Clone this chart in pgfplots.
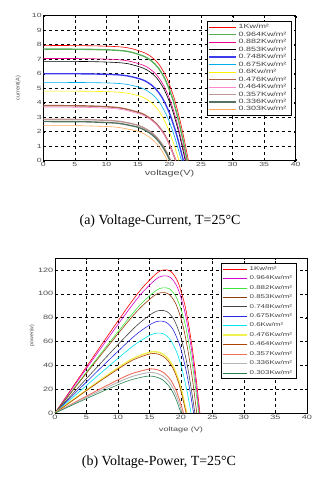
\documentclass[border=0pt]{standalone}
\usepackage{fontspec}
\setmainfont{Liberation Sans}
\newfontfamily\capfont{Liberation Serif}
\usepackage{graphicx}
\usepackage{pgfplots}
\pgfplotsset{compat=1.18}

% the original figure is stretched sideways, so text is widened
\newcommand\wide[1]{\scalebox{1.45}[1]{#1}}
\newcommand\legw{50bp}
\newcommand\leg[1]{\makebox[\legw][l]{\wide{#1}}}

% top chart colours
\definecolor{cGreenA}{RGB}{90,175,90}
\definecolor{cBlueA}{RGB}{60,60,235}
\definecolor{cBrownA}{RGB}{170,100,80}
\definecolor{cPinkA}{RGB}{255,135,205}
\definecolor{cRosyA}{RGB}{190,150,150}
\definecolor{cDkGreenA}{RGB}{85,115,95}
\definecolor{cOrangeA}{RGB}{255,170,90}
% bottom chart colours
\definecolor{cMagB}{RGB}{210,0,210}
\definecolor{cGreenB}{RGB}{60,230,60}
\definecolor{cBrownB}{RGB}{150,60,10}
\definecolor{cGrayB}{RGB}{70,70,70}
\definecolor{cBlueB}{RGB}{40,40,230}
\definecolor{cCyanB}{RGB}{0,230,240}
\definecolor{cYellowB}{RGB}{240,240,80}
\definecolor{cBrown2B}{RGB}{175,65,0}
\definecolor{cSalmonB}{RGB}{240,110,90}
\definecolor{cLGrayB}{RGB}{180,180,180}
\definecolor{cDkGreenB}{RGB}{40,130,80}

\pgfplotsset{
  pvstyle/.style={
    scale only axis,
    xmin=0, xmax=40, xtick={0,5,...,40},
    grid=major,
    major grid style={black, dashed, line width=0.5pt},
    tick align=inside,
    major tick length=2pt,
    tick style={black},
    axis line style={black, line width=0.6pt},
    ticklabel style={text=black!70, inner sep=1.5pt},
    xticklabel={\wide{\pgfmathprintnumber{\tick}}},
    yticklabel={\wide{\pgfmathprintnumber{\tick}}},
    label style={text=black!70},
    /pgf/number format/assume math mode=true,
    every axis plot/.append style={smooth, no markers, line width=0.6pt},
    legend cell align=left,
    legend style={text=black!75, cells={anchor=west},
      draw=black, line width=0.6pt, inner xsep=1pt, inner ysep=1pt},
  },
}

\begin{document}
\begin{tikzpicture}
\useasboundingbox (0,0) rectangle (331bp,480bp);

% ---------- (a) Voltage-Current ----------
\begin{axis}[pvstyle,
    at={(43.3bp,319.3bp)}, anchor=south west,
    width=252.4bp, height=145bp,
    ymin=0, ymax=10, ytick={0,1,...,10},
    ticklabel style={font=\fontsize{6}{7}\selectfont},
    xlabel={\wide{voltage(V)}}, ylabel={current(A)},
    xlabel style={font=\fontsize{7.5}{8}\selectfont, at={([yshift=-13bp]axis description cs:0.5,0)}, anchor=center},
    ylabel style={font=\fontsize{5.5}{6}\selectfont, at={([xshift=-25bp]axis description cs:0,0.5)}, anchor=center},
    legend style={at={(0.985,0.963)}, anchor=north east, font=\fontsize{6.2}{7}\selectfont, row sep=-2.5pt},
    legend image code/.code={\draw[#1] (0bp,0bp) -- (27bp,0bp);},
  ]
  \addplot[red] coordinates {(0,7.95)(6.9,7.93)(11.5,7.87)(13.8,7.75)(16.1,7.43)(17.25,7.12)(18.4,6.60)(19.55,5.72)(20.7,4.37)(21.62,2.86)(22.31,1.51)(23,0)};
  \addplot[cGreenA, line width=1.4pt] coordinates {(0,7.70)(6.84,7.68)(11.4,7.62)(13.68,7.51)(15.96,7.20)(17.1,6.89)(18.24,6.39)(19.38,5.54)(20.52,4.24)(21.43,2.77)(22.12,1.46)(22.8,0)};
  \addplot[magenta] coordinates {(0,7.05)(6.78,7.04)(11.3,6.98)(13.56,6.87)(15.82,6.59)(16.95,6.31)(18.08,5.85)(19.21,5.08)(20.34,3.88)(21.24,2.54)(21.92,1.34)(22.6,0)};
  \addplot[black] coordinates {(0,6.85)(6.75,6.84)(11.25,6.78)(13.5,6.68)(15.75,6.40)(16.88,6.13)(18.0,5.69)(19.13,4.93)(20.25,3.77)(21.15,2.47)(21.83,1.30)(22.5,0)};
  \addplot[cBlueA, line width=1.4pt] coordinates {(0,6.00)(6.66,5.99)(11.1,5.94)(13.32,5.85)(15.54,5.61)(16.65,5.37)(17.76,4.98)(18.87,4.32)(19.98,3.30)(20.87,2.16)(21.53,1.14)(22.2,0)};
  \addplot[cyan] coordinates {(0,5.40)(6.57,5.39)(10.95,5.35)(13.14,5.27)(15.33,5.05)(16.43,4.83)(17.52,4.48)(18.62,3.89)(19.71,2.97)(20.59,1.94)(21.24,1.03)(21.9,0)};
  \addplot[yellow] coordinates {(0,4.80)(6.45,4.79)(10.75,4.75)(12.9,4.68)(15.05,4.49)(16.13,4.30)(17.2,3.98)(18.28,3.46)(19.35,2.64)(20.21,1.73)(20.86,0.91)(21.5,0)};
  \addplot[cBrownA, line width=1.4pt] coordinates {(0,3.80)(6.3,3.78)(10.5,3.71)(12.6,3.61)(14.7,3.38)(15.75,3.23)(16.8,2.96)(17.85,2.58)(18.9,2.01)(19.74,1.37)(20.37,0.72)(21.0,0)};
  \addplot[cPinkA] coordinates {(0,3.70)(6.3,3.68)(10.5,3.61)(12.6,3.52)(14.7,3.29)(15.75,3.15)(16.8,2.89)(17.85,2.52)(18.9,1.96)(19.74,1.33)(20.37,0.70)(21.0,0)};
  \addplot[cRosyA, line width=1.4pt] coordinates {(0,2.85)(6.06,2.84)(10.1,2.78)(12.12,2.71)(14.14,2.54)(15.15,2.42)(16.16,2.22)(17.17,1.94)(18.18,1.51)(18.99,1.03)(19.59,0.54)(20.2,0)};
  \addplot[cDkGreenA, line width=1.4pt] coordinates {(0,2.70)(6.03,2.69)(10.05,2.63)(12.06,2.57)(14.07,2.40)(15.08,2.30)(16.08,2.11)(17.09,1.84)(18.09,1.43)(18.89,0.97)(19.5,0.51)(20.1,0)};
  \addplot[cOrangeA] coordinates {(0,2.42)(5.91,2.41)(9.85,2.36)(11.82,2.30)(13.79,2.15)(14.78,2.06)(15.76,1.89)(16.75,1.65)(17.73,1.28)(18.52,0.87)(19.11,0.46)(19.7,0)};
  \legend{\leg{1Kw/m²}, \leg{0.964Kw/m²}, \leg{0.882Kw/m²}, \leg{0.853Kw/m²},
          \leg{0.748Kw/m²}, \leg{0.675Kw/m²}, \leg{0.6Kw/m²}, \leg{0.476Kw/m²},
          \leg{0.464Kw/m²}, \leg{0.357Kw/m²}, \leg{0.336Kw/m²}, \leg{0.303Kw/m²}}
\end{axis}

\node[font=\capfont\fontsize{14}{16}\selectfont] at (160bp,259bp) {(a) Voltage-Current, T=25°C};

% ---------- (b) Voltage-Power ----------
\renewcommand\legw{44bp}
\begin{axis}[pvstyle,
    at={(55bp,67bp)}, anchor=south west,
    width=252bp, height=155bp,
    ymin=0, ymax=130, ytick={0,20,...,120},
    ticklabel style={font=\fontsize{6.3}{7}\selectfont},
    xlabel={\wide{voltage (V)}}, ylabel={power(w)},
    xlabel style={font=\fontsize{6.3}{7}\selectfont, at={([yshift=-17bp]axis description cs:0.5,0)}, anchor=center},
    ylabel style={font=\fontsize{5.3}{6}\selectfont, at={([xshift=-23bp]axis description cs:0,0.5)}, anchor=center},
    legend style={at={(0.96,0.968)}, anchor=north east, font=\fontsize{5.5}{6.5}\selectfont, row sep=0pt},
    legend image code/.code={\draw[#1] (0bp,0bp) -- (24bp,0bp);},
  ]
  \addplot[red] coordinates {(0,0)(6.9,53.5)(11.5,88.5)(13.8,104.6)(16.1,117.0)(17.25,120.0)(18.4,118.7)(19.55,109.4)(20.7,88.5)(21.62,60.5)(22.31,33.0)(23,0)};
  \addplot[cMagB] coordinates {(0,0)(6.87,51.3)(11.45,84.8)(13.74,100.3)(16.03,112.2)(17.18,115.0)(18.32,113.8)(19.47,104.9)(20.61,84.8)(21.53,58.0)(22.21,31.6)(22.9,0)};
  \addplot[cGreenB] coordinates {(0,0)(6.84,46.9)(11.4,77.5)(13.68,91.6)(15.96,102.4)(17.1,105.0)(18.24,103.9)(19.38,95.8)(20.52,77.5)(21.43,53.0)(22.12,28.8)(22.8,0)};
  \addplot[cBrownB] coordinates {(0,0)(6.75,45.1)(11.25,74.5)(13.5,88.0)(15.75,98.5)(16.88,101.0)(18.0,99.9)(19.13,92.1)(20.25,74.5)(21.15,50.9)(21.83,27.7)(22.5,0)};
  \addplot[cGrayB] coordinates {(0,0)(6.66,38.4)(11.1,63.5)(13.32,75.0)(15.54,83.9)(16.65,86.0)(17.76,85.1)(18.87,78.5)(19.98,63.5)(20.87,43.4)(21.53,23.6)(22.2,0)};
  \addplot[cBlueB] coordinates {(0,0)(6.6,34.4)(11.0,56.8)(13.2,67.2)(15.4,75.1)(16.5,77.0)(17.6,76.2)(18.7,70.3)(19.8,56.8)(20.68,38.8)(21.34,21.2)(22.0,0)};
  \addplot[cCyanB] coordinates {(0,0)(6.48,29.9)(10.8,49.4)(12.96,58.4)(15.12,65.4)(16.2,67.0)(17.28,66.3)(18.36,61.1)(19.44,49.4)(20.3,33.8)(20.95,18.4)(21.6,0)};
  \addplot[cYellowB, line width=1.4pt] coordinates {(0,0)(6.27,24.1)(10.45,39.4)(12.54,46.1)(14.63,50.3)(15.68,51.5)(16.72,50.4)(17.77,46.7)(18.81,38.5)(19.65,27.3)(20.27,14.9)(20.9,0)};
  \addplot[cBrown2B] coordinates {(0,0)(6.24,23.4)(10.4,38.2)(12.48,44.7)(14.56,48.8)(15.6,50.0)(16.64,48.9)(17.68,45.3)(18.72,37.4)(19.55,26.5)(20.18,14.4)(20.8,0)};
  \addplot[cSalmonB, line width=0.9pt] coordinates {(0,0)(6.12,17.3)(10.2,28.3)(12.24,33.1)(14.28,36.1)(15.3,37.0)(16.32,36.2)(17.34,33.5)(18.36,27.7)(19.18,19.6)(19.79,10.7)(20.4,0)};
  \addplot[cLGrayB, line width=0.9pt] coordinates {(0,0)(6.06,15.9)(10.1,26.0)(12.12,30.4)(14.14,33.2)(15.15,34.0)(16.16,33.3)(17.17,30.8)(18.18,25.4)(18.99,18.0)(19.59,9.8)(20.2,0)};
  \addplot[cDkGreenB] coordinates {(0,0)(6.0,14.5)(10.0,23.7)(12.0,27.7)(14.0,30.3)(15.0,31.0)(16.0,30.3)(17.0,28.1)(18.0,23.2)(18.8,16.4)(19.4,9.0)(20.0,0)};
  \legend{\leg{1Kw/m²}, \leg{0.964Kw/m²}, \leg{0.882Kw/m²}, \leg{0.853Kw/m²},
          \leg{0.748Kw/m²}, \leg{0.675Kw/m²}, \leg{0.6Kw/m²}, \leg{0.476Kw/m²},
          \leg{0.464Kw/m²}, \leg{0.357Kw/m²}, \leg{0.336Kw/m²}, \leg{0.303Kw/m²}}
\end{axis}

\node[font=\capfont\fontsize{14}{16}\selectfont] at (159bp,18bp) {(b) Voltage-Power, T=25°C};
\end{tikzpicture}
\end{document}
